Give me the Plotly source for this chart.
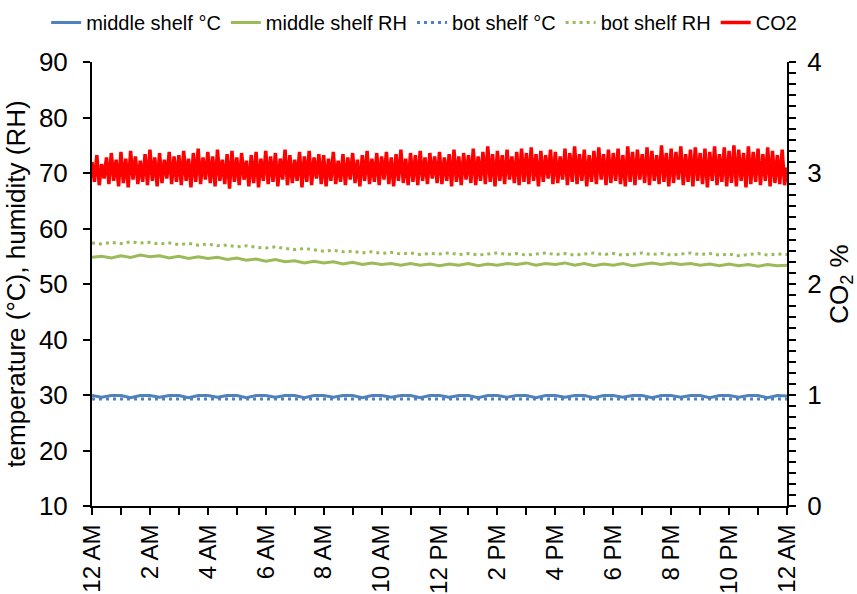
import plotly.graph_objects as go

# ---------------- data ----------------
x_tick_vals = [0, 2, 4, 6, 8, 10, 12, 14, 16, 18, 20, 22, 24]
x_tick_text = ["12 AM", "2 AM", "4 AM", "6 AM", "8 AM", "10 AM", "12 PM",
               "2 PM", "4 PM", "6 PM", "8 PM", "10 PM", "12 AM"]

# 20-minute readings (hours 0..24)
middle_temp = [
    29.9, 29.6, 29.9, 29.9, 29.5, 29.9, 29.9, 29.6, 29.9, 29.9, 29.5, 29.9,
    29.9, 29.6, 29.9, 29.9, 29.5, 29.9, 29.9, 29.6, 29.9, 29.9, 29.5, 29.9,
    29.9, 29.6, 29.9, 29.9, 29.5, 29.9, 29.9, 29.6, 29.9, 29.9, 29.5, 29.9,
    29.9, 29.6, 29.9, 29.9, 29.5, 29.9, 29.9, 29.6, 29.9, 29.9, 29.5, 29.9,
    29.9, 29.6, 29.9, 29.9, 29.5, 29.9, 29.9, 29.6, 29.9, 29.9, 29.5, 29.9,
    29.9, 29.6, 29.9, 29.9, 29.5, 29.9, 29.9, 29.6, 29.9, 29.9, 29.5, 29.9,
    29.8,
]
bot_temp = [
    29.3, 29.3, 29.2, 29.3, 29.3, 29.2, 29.3, 29.3, 29.2, 29.3, 29.3, 29.2,
    29.3, 29.3, 29.2, 29.3, 29.3, 29.2, 29.3, 29.3, 29.2, 29.3, 29.3, 29.2,
    29.3, 29.3, 29.2, 29.3, 29.3, 29.2, 29.3, 29.3, 29.2, 29.3, 29.3, 29.2,
    29.3, 29.3, 29.2, 29.3, 29.3, 29.2, 29.3, 29.3, 29.2, 29.3, 29.3, 29.2,
    29.3, 29.3, 29.2, 29.3, 29.3, 29.2, 29.3, 29.3, 29.2, 29.3, 29.3, 29.2,
    29.3, 29.3, 29.2, 29.3, 29.3, 29.2, 29.3, 29.3, 29.2, 29.3, 29.3, 29.2,
    29.3,
]
middle_rh = [
    54.8, 55.0, 54.7, 55.1, 54.8, 55.2, 54.9, 55.1, 54.7, 55.0, 54.6, 54.9,
    54.6, 54.8, 54.4, 54.7, 54.3, 54.5, 54.1, 54.4, 54.0, 54.2, 53.8, 54.1,
    53.8, 54.0, 53.6, 53.9, 53.5, 53.8, 53.5, 53.7, 53.4, 53.7, 53.4, 53.6,
    53.3, 53.6, 53.4, 53.7, 53.3, 53.6, 53.4, 53.7, 53.5, 53.8, 53.4, 53.7,
    53.5, 53.8, 53.4, 53.7, 53.3, 53.6, 53.4, 53.7, 53.3, 53.6, 53.8, 53.5,
    53.8, 53.5, 53.7, 53.4, 53.6, 53.3, 53.6, 53.3, 53.5, 53.2, 53.5, 53.3,
    53.4,
]
bot_rh = [
    57.4, 57.2, 57.5, 57.3, 57.6, 57.4, 57.5, 57.2, 57.4, 57.1, 57.3, 57.0,
    57.2, 56.9, 57.0, 56.7, 56.9, 56.6, 56.5, 56.7, 56.4, 56.2, 56.4, 56.1,
    55.9, 56.1, 55.8, 55.9, 55.6, 55.8, 55.5, 55.7, 55.4, 55.6, 55.3, 55.5,
    55.4, 55.6, 55.3, 55.5, 55.2, 55.4, 55.6, 55.3, 55.5, 55.2, 55.4, 55.6,
    55.3, 55.5, 55.2, 55.4, 55.6, 55.3, 55.5, 55.2, 55.4, 55.6, 55.3, 55.5,
    55.2, 55.4, 55.6, 55.3, 55.5, 55.2, 55.4, 55.1, 55.3, 55.5, 55.2, 55.4,
    55.3,
]

# 5-minute CO2 readings (%)
co2 = [
    3.10, 2.92, 3.16, 2.89, 3.08, 2.95, 3.14, 2.90, 3.18, 2.93, 3.12, 2.88,
    3.19, 2.91, 3.13, 2.87, 3.20, 2.94, 3.15, 2.90, 3.11, 2.92, 3.17, 2.89,
    3.21, 2.93, 3.14, 2.88, 3.18, 2.91, 3.12, 2.95, 3.19, 2.90, 3.15, 2.92,
    3.16, 2.89, 3.20, 2.93, 3.13, 2.87, 3.18, 2.92, 3.22, 2.90, 3.14, 2.94,
    3.19, 2.91, 3.15, 2.88, 3.21, 2.93, 3.12, 2.90, 3.17, 2.86, 3.20, 2.92,
    3.14, 2.89, 3.18, 2.94, 3.11, 2.88, 3.16, 2.91, 3.19, 2.87, 3.13, 2.93,
    3.20, 2.90, 3.15, 2.92, 3.18, 2.88, 3.13, 2.94, 3.21, 2.89, 3.16, 2.91,
    3.12, 2.93, 3.19, 2.87, 3.15, 2.92, 3.20, 2.89, 3.14, 2.95, 3.17, 2.90,
    3.16, 2.88, 3.13, 2.93, 3.19, 2.90, 3.11, 2.92, 3.17, 2.89, 3.14, 2.94,
    3.18, 2.91, 3.12, 2.88, 3.16, 2.93, 3.20, 2.90, 3.13, 2.92, 3.18, 2.89,
    3.15, 2.94, 3.19, 2.90, 3.14, 2.88, 3.17, 2.93, 3.21, 2.91, 3.13, 2.89,
    3.18, 2.92, 3.16, 2.89, 3.20, 2.93, 3.14, 2.90, 3.18, 2.95, 3.15, 2.91,
    3.19, 2.90, 3.14, 2.93, 3.17, 2.88, 3.21, 2.92, 3.15, 2.89, 3.18, 2.94,
    3.16, 2.91, 3.22, 2.89, 3.15, 2.93, 3.19, 2.90, 3.24, 2.92, 3.17, 2.88,
    3.20, 2.93, 3.16, 2.90, 3.21, 2.94, 3.15, 2.91, 3.19, 2.89, 3.22, 2.92,
    3.18, 2.90, 3.23, 2.93, 3.17, 2.88, 3.20, 2.92, 3.16, 2.95, 3.21, 2.90,
    3.19, 2.91, 3.15, 2.94, 3.22, 2.89, 3.18, 2.92, 3.24, 2.90, 3.17, 2.93,
    3.21, 2.88, 3.16, 2.92, 3.20, 2.90, 3.23, 2.94, 3.17, 2.89, 3.21, 2.91,
    3.18, 2.93, 3.22, 2.90, 3.16, 2.88, 3.24, 2.92, 3.19, 2.89, 3.21, 2.94,
    3.17, 2.91, 3.23, 2.89, 3.20, 2.93, 3.16, 2.90, 3.25, 2.92, 3.18, 2.88,
    3.22, 2.91, 3.19, 2.94, 3.24, 2.89, 3.17, 2.92, 3.21, 2.88, 3.23, 2.93,
    3.18, 2.90, 3.22, 2.87, 3.19, 2.93, 3.24, 2.89, 3.17, 2.92, 3.23, 2.88,
    3.20, 2.91, 3.25, 2.88, 3.21, 2.93, 3.18, 2.87, 3.24, 2.90, 3.19, 2.92,
    3.22, 2.89, 3.17, 2.93, 3.23, 2.88, 3.20, 2.91, 3.16, 2.90, 3.21, 2.89,
    3.05,
]

# time axes (hours since midnight)
t20 = [i / 3 for i in range(len(middle_temp))]
t5 = [i / 12 for i in range(len(co2))]

BLUE = "#4F81BD"
GREEN = "#9BBB59"
RED = "#FF0000"
FONT = "Liberation Sans, Arial, sans-serif"

fig = go.Figure()
fig.add_trace(go.Scatter(x=t20, y=middle_temp, name="middle shelf °C", mode="lines",
                         line=dict(color=BLUE, width=3)))
fig.add_trace(go.Scatter(x=t20, y=middle_rh, name="middle shelf RH", mode="lines",
                         line=dict(color=GREEN, width=3)))
fig.add_trace(go.Scatter(x=t20, y=bot_temp, name="bot shelf °C", mode="lines",
                         line=dict(color=BLUE, width=3, dash="3px,4px")))
fig.add_trace(go.Scatter(x=t20, y=bot_rh, name="bot shelf RH", mode="lines",
                         line=dict(color=GREEN, width=3, dash="3px,4px")))
fig.add_trace(go.Scatter(x=t5, y=co2, name="CO2", mode="lines", yaxis="y2",
                         line=dict(color=RED, width=3.5)))

fig.update_layout(
    width=857, height=594,
    margin=dict(l=92, r=70, t=62, b=88, autoexpand=False),
    paper_bgcolor="white", plot_bgcolor="white",
    font=dict(family=FONT, size=26, color="black"),
    showlegend=True,
    legend=dict(orientation="h", xref="paper", yref="paper",
                x=-0.066, xanchor="left", y=1.133, yanchor="top",
                font=dict(size=20), itemwidth=30, tracegroupgap=0,
                bgcolor="rgba(0,0,0,0)"),
    xaxis=dict(range=[0, 24], tickmode="array", tickvals=x_tick_vals, ticktext=x_tick_text,
               tickangle=-90, showgrid=False, zeroline=False,
               showline=True, linecolor="black", linewidth=2,
               ticks="outside", ticklen=7, tickwidth=2, tickcolor="black",
               minor=dict(dtick=1, ticks="outside", ticklen=7, tickwidth=2, tickcolor="black",
                          showgrid=False),
               tickfont=dict(size=24)),
    yaxis=dict(range=[10, 90], dtick=10, showgrid=False, zeroline=False,
               showline=True, linecolor="black", linewidth=2,
               ticks="outside", ticklen=7, tickwidth=2, tickcolor="black",
               tickfont=dict(size=26), ticklabelstandoff=10,
               title=dict(text="temperature (°C), humidity (RH)", font=dict(size=26),
                          standoff=6)),
    yaxis2=dict(range=[0, 4], dtick=1, overlaying="y", side="right",
                showgrid=False, zeroline=False,
                showline=True, linecolor="black", linewidth=2,
                ticks="outside", ticklen=7, tickwidth=2, tickcolor="black",
                minor=dict(dtick=0.1, ticks="outside", ticklen=7, tickwidth=2,
                           tickcolor="black", showgrid=False),
                tickfont=dict(size=26), ticklabelstandoff=6,
                title=dict(text="CO<sub>2</sub> %", font=dict(size=26), standoff=10)),
)

fig.write_html("out.html", config={"displayModeBar": False},
               post_script="document.body.style.margin='0';")
